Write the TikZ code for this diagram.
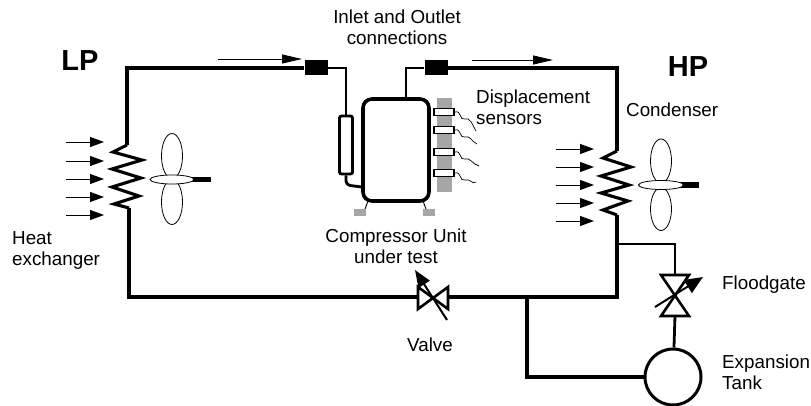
\documentclass[tikz,border=0pt]{standalone}
\usepackage{fontspec}
\setmainfont{Liberation Sans}
\usetikzlibrary{arrows.meta}
\usepackage{xcolor}

\begin{document}
\begin{tikzpicture}[x=1pt,y=-1pt]
    	\colorlet{hatchcolor}{black!35}
    	\tikzset{
    	  pipe/.style={line width=3.1pt},
    	  thinpipe/.style={line width=2.8pt},
    	  airflow/.style={line width=0.9pt,-{Triangle[length=14pt,width=10pt]}},
    	  longflow/.style={line width=0.9pt,-{Triangle[length=20pt,width=9pt]}},
    	  labeltext/.style={font=\fontsize{18.8pt}{21pt}\selectfont,align=center,inner sep=0pt},
    	  bigtext/.style={font=\bfseries\fontsize{29pt}{32pt}\selectfont,inner sep=0pt},
    	  connector/.style={fill=black,minimum width=23pt,minimum height=15pt,inner sep=0pt},
    	  sensor/.style={draw,line width=1.2pt,fill=white,minimum width=20pt,minimum height=6.5pt,inner sep=0pt},
    	  lead/.style={line width=0.7pt},
    	  blade/.style={draw,line width=0.8pt,fill=white}
    	}
    	\useasboundingbox (0,0) rectangle (811,406);

    	% main loop
    	\coordinate (coilLtop) at (127,145);
    	\coordinate (coilLbot) at (129,208);
    	\coordinate (coilRtop) at (617,151);
    	\coordinate (coilRbot) at (617,215);
    	\node[connector] (inlet) at (316,68) {};
    	\node[connector] (outlet) at (436,68) {};
    	\node[draw,line width=3pt,circle,minimum size=56pt,inner sep=0pt] (tank) at (673,377) {};
    	\coordinate (valveL) at (418,297);
    	\coordinate (valveR) at (448,297);
    	\coordinate (gateT) at (675,275);
    	\coordinate (gateB) at (675,316);
    	\coordinate (junctR) at (617,244);
    	\coordinate (junctB) at (527,297);

    	\draw[pipe] (coilLtop) -- (127,68) -- (inlet);
    	\draw[pipe] (coilLbot) -- (129,297) -- (valveL);
    	\draw[pipe] (outlet) -- (617,68) -- (coilRtop);
    	\draw[pipe] (coilRbot) -- (617,297) -- (valveR);
    	\draw[thinpipe] (junctR) -- (675,244) -- (gateT);
    	\draw[thinpipe] (gateB) -- (tank);
    	\draw[pipe] (junctB) -- (527,377) -- (tank);

    	% coils
    	\draw[pipe,line join=miter] (coilLtop) -- (113,152) -- (142,160) -- (112,169) -- (141,178) -- (112,187) -- (139,196) -- (114,204) -- (coilLbot);
    	\draw[pipe,line join=miter] (coilRtop) -- (603,158) -- (631,167) -- (601,176) -- (629,185) -- (601,193) -- (628,201) -- (603,210) -- (coilRbot);

    	% compressor
    	\draw[line width=3.6pt,rounded corners=9pt] (363,99) rectangle (429,201);
    	\node[draw,line width=2.8pt,rounded corners=2pt,minimum width=13pt,minimum height=58pt,inner sep=0pt] (bypass) at (346,145) {};
    	\draw[thinpipe] (inlet) -- (346,68) -- (bypass);
    	\draw[thinpipe,rounded corners=4pt] (bypass) -- (346,185) -- (362,187);
    	\draw[thinpipe] (outlet) -- (406,68) -- (406,98);
    	\fill[hatchcolor] (437,98) rectangle (452,192);
    	\fill[hatchcolor] (354,209) rectangle (366,216);
    	\fill[hatchcolor] (423,209) rectangle (435,216);
    	\draw[line width=0.9pt] (368,201) -- (365,209);
    	\draw[line width=0.9pt] (423,201) -- (426,209);

    	% sensors
    	\foreach \n/\yy/\xe/\ye in {1/112/476/131,2/130/477/144,3/152/479/166,4/173/476/182}{
    	  \node[sensor] (sensor\n) at (444,\yy) {};
    	  \draw[lead] (sensor\n.east) .. controls (462,\yy-2) and (459,\yy+9) .. (465,\yy+7)
    	    .. controls (470,\yy+5) and (472,\yy+12) .. (\xe,\ye);
    	}

    	% fans
    	\draw[blade] (172,156) ellipse[x radius=10.5,y radius=22.5];
    	\draw[blade] (172,202) ellipse[x radius=10.5,y radius=22.5];
    	\draw[blade] (661,161) ellipse[x radius=10.5,y radius=22];
    	\draw[blade] (661,209) ellipse[x radius=10.5,y radius=21.5];
    	\fill (190,177) rectangle (211,182.5);
    	\fill (679,182) rectangle (699,188);
    	\draw[blade] (172,179.5) ellipse[x radius=22,y radius=4.5];
    	\draw[blade] (661,185) ellipse[x radius=22.5,y radius=4.5];

    	% airflow arrows
    	\foreach \n/\yy in {1/142,2/161,3/179,4/197,5/215}{
    	  \coordinate (airLa\n) at (66,\yy);
    	  \coordinate (airLb\n) at (104,\yy);
    	  \draw[airflow] (airLa\n) -- (airLb\n);
    	}
    	\foreach \n/\yy in {1/149,2/167,3/185,4/203,5/221}{
    	  \coordinate (airRa\n) at (556,\yy);
    	  \coordinate (airRb\n) at (594,\yy);
    	  \draw[airflow] (airRa\n) -- (airRb\n);
    	}
    	\coordinate (flowLa) at (218,59);
    	\coordinate (flowLb) at (302,59);
    	\coordinate (flowRa) at (472,60);
    	\coordinate (flowRb) at (553,60);
    	\draw[longflow] (flowLa) -- (flowLb);
    	\draw[longflow] (flowRa) -- (flowRb);

    	% valves
    	\draw[line width=2.6pt,line join=miter] (418,287) -- (418,309) -- (448,287) -- (448,309) -- cycle;
    	\coordinate (valveArrA) at (447,320);
    	\coordinate (valveArrB) at (415,270);
    	\draw[line width=2pt,-{Triangle[length=17pt,width=13pt]}] (valveArrA) -- (valveArrB);
    	\draw[line width=2.6pt,line join=miter] (661,275) -- (689,275) -- (661,316) -- (689,316) -- cycle;
    	\coordinate (gateArrA) at (655,307);
    	\coordinate (gateArrB) at (703,277);
    	\draw[line width=2pt,-{Triangle[length=18pt,width=15pt]}] (gateArrA) -- (gateArrB);

    	% labels
    	\node[bigtext] (lpLabel) at (80,61) {LP};
    	\node[bigtext] (hpLabel) at (688,67) {HP};
    	\node[labeltext] (portsLabel) at (397,27) {Inlet and Outlet\\connections};
    	\node[labeltext,anchor=west,align=left] (sensorLabel) at (476,107) {Displacement\\sensors};
    	\node[labeltext,anchor=west] (condLabel) at (626,110) {Condenser};
    	\node[labeltext,anchor=west,align=left] (heatLabel) at (12,250) {Heat\\exchanger};
    	\node[labeltext] (unitLabel) at (396,246) {Compressor Unit\\under test};
    	\node[labeltext] (valveLabel) at (430,345) {Valve};
    	\node[labeltext,anchor=west] (gateLabel) at (722,285) {Floodgate};
    	\node[labeltext,anchor=west,align=left] (tankLabel) at (722,372) {Expansion\\Tank};
    \end{tikzpicture}
\end{document}
